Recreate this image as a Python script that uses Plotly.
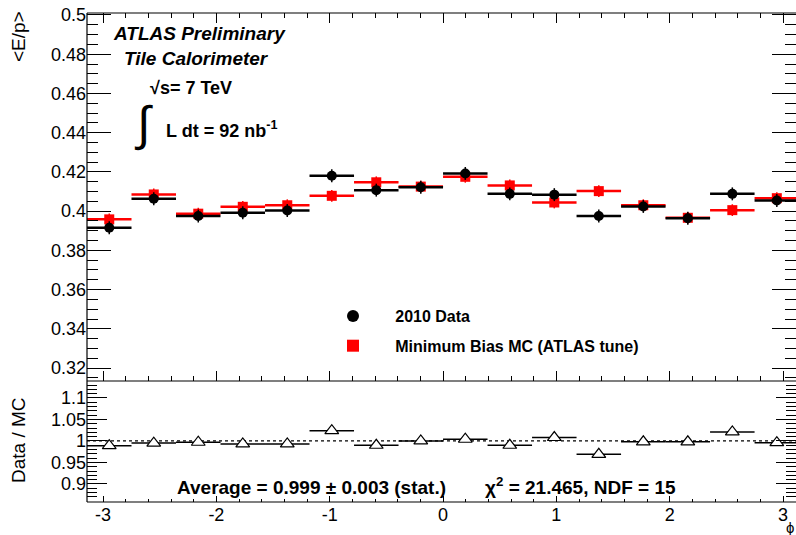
import numpy as np
import plotly.graph_objects as go

# ---------------- data ----------------
n_bins = 16
phi_edges = np.linspace(-np.pi, np.pi, n_bins + 1)
phi_centers = 0.5 * (phi_edges[:-1] + phi_edges[1:])
phi_halfwidth = 0.5 * (phi_edges[1:] - phi_edges[:-1])

data_ep = [0.3915, 0.4063, 0.3975, 0.3992, 0.4003, 0.4180, 0.4107, 0.4122,
           0.4192, 0.4088, 0.4084, 0.3975, 0.4024, 0.3964, 0.4088, 0.4054]
data_err = [0.0033] * 16
mc_ep = [0.3958, 0.4085, 0.3987, 0.4022, 0.4030, 0.4078, 0.4147, 0.4125,
         0.4175, 0.4131, 0.4044, 0.4102, 0.4030, 0.3966, 0.4005, 0.4066]
mc_err = [0.0030] * 16
ratio = [0.989, 0.995, 0.997, 0.993, 0.993, 1.024, 0.990, 1.000,
         1.004, 0.990, 1.008, 0.969, 0.998, 0.998, 1.021, 0.996]
ratio_err = [0.004] * 16

x_tickvals = [-3, -2, -1, 0, 1, 2, 3]
x_ticktext = ["-3", "-2", "-1", "0", "1", "2", "3"]

# ---------------- layout geometry ----------------
W, H = 796, 535
L, R, T, B = 87, 0, 13, 33
PW, PH = W - L - R, H - T - B
Y_SPLIT = 381  # pixel row of the pad boundary
split_frac = (H - B - Y_SPLIT) / PH


def px(x):
    return (x - L) / PW


def py(y):
    return (H - B - y) / PH


FONT = "Liberation Sans, Arial, Helvetica, sans-serif"
NB = "\u00a0"

fig = go.Figure()

# MC (red squares)
fig.add_trace(go.Scatter(
    x=phi_centers, y=mc_ep, mode="markers", name=NB * 5 + "<b>Minimum Bias MC (ATLAS tune)</b>",
    xaxis="x2", yaxis="y2", legendgroup="mc",
    marker=dict(symbol="square", size=10, color="#ff0000"),
    error_x=dict(type="data", array=phi_halfwidth, width=0, thickness=2.5, color="#ff0000"),
    error_y=dict(type="data", array=mc_err, width=0, thickness=1.5, color="#ff0000"),
    legendrank=2,
))
# Data (black dots)
fig.add_trace(go.Scatter(
    x=phi_centers, y=data_ep, mode="markers", name=NB * 5 + "<b>2010 Data</b>",
    xaxis="x2", yaxis="y2", legendgroup="data",
    marker=dict(symbol="circle", size=10, color="black"),
    error_x=dict(type="data", array=phi_halfwidth, width=0, thickness=2.5, color="black"),
    error_y=dict(type="data", array=data_err, width=0, thickness=1.5, color="black"),
    legendrank=1,
))
# Ratio
fig.add_trace(go.Scatter(
    x=phi_centers, y=ratio, mode="markers", showlegend=False,
    xaxis="x", yaxis="y",
    marker=dict(symbol="triangle-up", size=12, color="white", line=dict(color="black", width=1.2)),
    error_x=dict(type="data", array=phi_halfwidth, width=0, thickness=1.5, color="black"),
    error_y=dict(type="data", array=ratio_err, width=0, thickness=1.2, color="black"),
))

x_range = [-np.pi, -np.pi + PW / 113.33]
tickfont = dict(family=FONT, size=18, color="black")

common_x = dict(range=x_range, showgrid=False, zeroline=False, showline=False,
                ticks="inside", tickcolor="black", tickwidth=1)

fig.update_layout(
    width=W, height=H,
    margin=dict(l=L, r=R, t=T, b=B, pad=0),
    paper_bgcolor="white", plot_bgcolor="white",
    showlegend=True,
    legend=dict(x=px(333), y=py(299), xanchor="left", yanchor="top",
                bgcolor="rgba(0,0,0,0)", font=dict(family=FONT, size=16, color="black"),
                tracegroupgap=6, itemsizing="constant"),
    xaxis=dict(**common_x, anchor="y", domain=[0, 1], ticklen=6,
               tickmode="array", tickvals=x_tickvals, ticktext=x_ticktext,
               tickfont=tickfont,
               minor=dict(dtick=0.2, tick0=0, ticklen=3, ticks="inside", tickcolor="black")),
    xaxis2=dict(**common_x, anchor="y2", matches="x", domain=[0, 1], ticklen=10,
                tickmode="array", tickvals=x_tickvals, showticklabels=False, mirror="ticks",
                minor=dict(dtick=0.2, tick0=0, ticklen=5, ticks="inside", tickcolor="black")),
    yaxis=dict(domain=[0, split_frac], range=[0.858, 1.1395], anchor="x",
               showgrid=False, zeroline=False, showline=False, mirror="ticks",
               ticks="inside", ticklen=20, tickcolor="black", dtick=0.05, tick0=0,
               tickfont=tickfont,
               minor=dict(dtick=0.01, tick0=0, ticklen=10, ticks="inside", tickcolor="black")),
    yaxis2=dict(domain=[split_frac, 1], range=[0.3134, 0.501], anchor="x2",
                showgrid=False, zeroline=False, showline=False, mirror="ticks",
                ticks="inside", ticklen=24, tickcolor="black", dtick=0.02, tick0=0,
                tickfont=tickfont,
                minor=dict(dtick=0.005, tick0=0, ticklen=11, ticks="inside", tickcolor="black")),
)

# frame lines (right frame lies just outside the window)
frame = dict(color="black", width=1.2)
shapes = [
    dict(type="line", xref="paper", yref="paper", x0=0, x1=0, y0=0, y1=1, line=frame),
    dict(type="line", xref="paper", yref="paper", x0=0, x1=1, y0=0, y1=0, line=frame),
    dict(type="line", xref="paper", yref="paper", x0=0, x1=1, y0=1, y1=1, line=frame),
    dict(type="line", xref="paper", yref="paper", x0=0, x1=1, y0=split_frac, y1=split_frac, line=frame),
    dict(type="line", xref="paper", yref="y", x0=0, x1=1, y0=1.0, y1=1.0, layer="below",
         line=dict(color="black", width=1.3, dash="dot")),
]
fig.update_layout(shapes=shapes)

bold = dict(family=FONT, color="black")
ann = [
    dict(text="<b><i>ATLAS Preliminary</i></b>", x=px(199), y=py(33), font=dict(**bold, size=19)),
    dict(text="<b><i>Tile Calorimeter</i></b>", x=px(196), y=py(58), font=dict(**bold, size=19)),
    dict(text="<b>\u221As= 7 TeV</b>", x=px(191), y=py(88), font=dict(**bold, size=18)),
    dict(text="\u222B", x=px(143), y=py(124), font=dict(family=FONT, size=48, color="black")),
    dict(text="<b>L dt = 92 nb<sup>-1</sup></b>", x=px(221), y=py(130), font=dict(**bold, size=18)),
    dict(text="<b>Average = 0.999 \u00b1 0.003 (stat.)</b>", x=px(311), y=py(487), font=dict(**bold, size=19)),
    dict(text="<b>\u03c7<sup>2</sup> = 21.465, NDF = 15</b>", x=px(580), y=py(486), font=dict(**bold, size=19)),
    dict(text="&lt;E/p&gt;", x=px(18), y=py(37), textangle=-90, font=dict(family=FONT, size=19, color="black")),
    dict(text="Data / MC", x=px(18), y=py(440), textangle=-90, font=dict(family=FONT, size=19, color="black")),
    dict(text="\u03d5", x=px(790), y=py(527), font=dict(family=FONT, size=15, color="black")),
]
for a in ann:
    a.update(xref="paper", yref="paper", showarrow=False, xanchor="center", yanchor="middle")
fig.update_layout(annotations=ann)

fig.write_html("out.html")
